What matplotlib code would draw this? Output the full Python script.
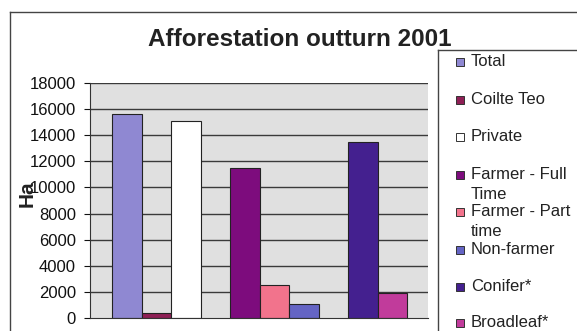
import matplotlib.pyplot as plt
from matplotlib.patches import Rectangle
from matplotlib.lines import Line2D
import numpy as np

plt.rcParams['font.family'] = ['Liberation Sans', 'DejaVu Sans']

# data
series = ['Total', 'Coilte Teo', 'Private', 'Farmer - Full\nTime',
          'Farmer - Part\ntime', 'Non-farmer', 'Conifer*', 'Broadleaf*']
values = [15600, 350, 15100, 11500, 2500, 1100, 13500, 1900]
colors = ['#8f88d2', '#8e1f55', '#ffffff', '#7d0c7d',
          '#f2738c', '#6464c4', '#44208f', '#c13b9b']
# bar slots (gaps between the three groups)
slots = [0, 1, 2, 4, 5, 6, 8, 9]
yticks = np.arange(0, 18001, 2000)

W, H = 577, 331
fig = plt.figure(figsize=(W / 100, H / 100), dpi=100)

ax = fig.add_axes([90 / W, (H - 318) / H, (428 - 90) / W, (318 - 83) / H])
ax.set_facecolor('#e0e0e0')
for y in yticks[1:]:
    ax.axhline(y, color='#3a3a3a', lw=1.0, zorder=1)
ax.bar(slots, values, width=1.0, color=colors, edgecolor='#222222',
       linewidth=0.8, zorder=2)
ax.set_xlim(-1.25, 10.21)
ax.set_ylim(0, 18000)
ax.set_yticks(yticks)
ax.set_yticklabels([str(v) for v in yticks], fontsize=12)
ax.tick_params(axis='y', length=4, width=0.8, pad=6, colors='#111111')
ax.set_xticks([])
for s in ['top', 'right']:
    ax.spines[s].set_visible(False)
ax.spines['left'].set_color('#333333')
ax.spines['bottom'].set_color('#333333')

fig.text(300 / W, 1 - 40 / H, 'Afforestation outturn 2001', fontsize=17.5,
         fontweight='bold', ha='center', va='center', color='#222222')
fig.text(27 / W, 1 - 194 / H, 'Ha', fontsize=15, fontweight='bold',
         rotation=90, ha='center', va='center', color='#222222')

# outer chart frame and legend box
fig.add_artist(Line2D([10 / W, 10 / W], [0, 1 - 12 / H], transform=fig.transFigure,
                      color='#444444', lw=1.0))
fig.add_artist(Line2D([10 / W, 1], [1 - 12 / H, 1 - 12 / H], transform=fig.transFigure,
                      color='#444444', lw=1.0))
fig.add_artist(Line2D([438 / W, 438 / W], [0, 1 - 50 / H], transform=fig.transFigure,
                      color='#444444', lw=1.0))
fig.add_artist(Line2D([438 / W, 1], [1 - 50 / H, 1 - 50 / H], transform=fig.transFigure,
                      color='#444444', lw=1.0))

# legend entries
leg_y = [61, 99, 136, 174, 211, 249, 286, 322]
for name, col, y in zip(series, colors, leg_y):
    fig.add_artist(Rectangle((456 / W, 1 - (y + 5) / H), 8 / W, 8 / H,
                             transform=fig.transFigure, facecolor=col,
                             edgecolor='#333333', lw=0.7))
    fig.text(471 / W, 1 - (y - 7) / H, name, fontsize=12, ha='left', va='top',
             linespacing=1.45, color='#222222')

fig.savefig('out.png', dpi=100)
